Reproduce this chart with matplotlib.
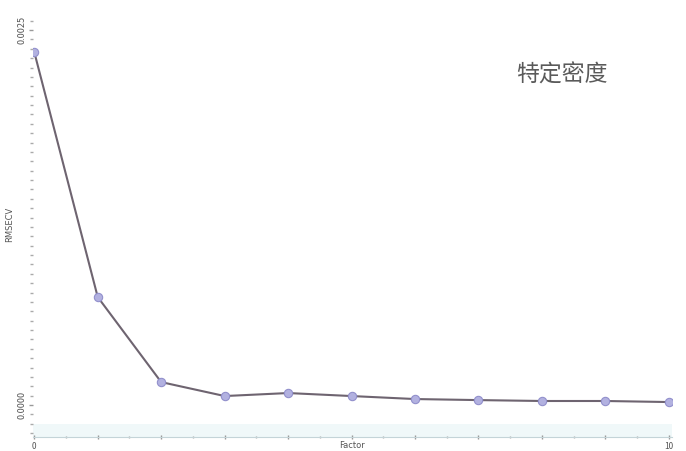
import matplotlib
matplotlib.use("Agg")
import matplotlib.pyplot as plt
from matplotlib.ticker import MultipleLocator, FixedLocator, FixedFormatter

plt.rcParams['font.family'] = ['Noto Sans CJK SC', 'DejaVu Sans']

# RMSECV per number of factors
factors = [0, 1, 2, 3, 4, 5, 6, 7, 8, 9, 10]
rmsecv = [0.002353, 0.000720, 0.000153, 0.000060, 0.000080, 0.000060,
          0.000040, 0.000033, 0.000027, 0.000027, 0.000020]
y_tick_values = [0.0, 0.0025]
y_tick_labels = ["0.0000", "0.0025"]
x_tick_labels = {0: "0", 10: "10"}
annotation = "特定密度"

W, H = 686, 451
fig = plt.figure(figsize=(W / 100, H / 100), dpi=100)
ax = fig.add_axes([33 / W, 1 - 437 / H, (672 - 33) / W, (437 - 12) / H])

ax.plot(factors, rmsecv, color="#6e6470", lw=1.5, zorder=2)
ax.plot(factors, rmsecv, ls="none", marker="o", ms=6,
        mfc="#b2b1e0", mec="#9290cc", mew=0.8, zorder=3)

ax.set_xlim(-0.02, 10.05)
ax.set_ylim(-0.000213, 0.00262)

for s in ["top", "right"]:
    ax.spines[s].set_visible(False)
ax.spines["left"].set_visible(False)
ax.spines["bottom"].set_color("#c4d4d8")
ax.spines["bottom"].set_linewidth(0.8)

# y axis: rotated end labels, dense small ticks
ax.yaxis.set_major_locator(FixedLocator(y_tick_values))
ax.yaxis.set_major_formatter(FixedFormatter(y_tick_labels))
ax.yaxis.set_minor_locator(MultipleLocator(0.0025 / 40))
ax.tick_params(axis="y", which="major", length=3, width=1, color="#999999",
               labelsize=6.5, labelcolor="#555555", pad=2)
ax.tick_params(axis="y", which="minor", length=2, width=1, color="#aaaaaa")
for lab in ax.get_yticklabels():
    lab.set_rotation(90)
    lab.set_va("center")

# x axis: integer ticks with half-step minors, only the ends labelled
ax.xaxis.set_major_locator(FixedLocator(factors))
ax.xaxis.set_major_formatter(FixedFormatter([x_tick_labels.get(f, "") for f in factors]))
ax.xaxis.set_minor_locator(MultipleLocator(0.5))
ax.tick_params(axis="x", which="major", length=3, width=1, color="#999999",
               labelsize=6, labelcolor="#555555", pad=2, direction="inout")
ax.tick_params(axis="x", which="minor", length=2, width=1, color="#aaaaaa",
               direction="inout")

ax.set_xlabel("Factor", fontsize=6, color="#555555", family="DejaVu Sans")
ax.xaxis.set_label_coords(0.5, -8 / (437 - 12), transform=ax.transAxes)
ax.xaxis.label.set_va("center")
ax.set_ylabel("RMSECV", fontsize=6, color="#555555", labelpad=2,
              family="DejaVu Sans")

# pale band along the bottom of the plot area
ax.axhspan(-0.000213, -0.000125, color="#f0f8f9", zorder=0, lw=0)

fig.text(562 / W, 1 - 75 / H, annotation, fontsize=16.5, color="#5a5a5a",
         ha="center", va="center")

fig.savefig("out.png", dpi=100)
